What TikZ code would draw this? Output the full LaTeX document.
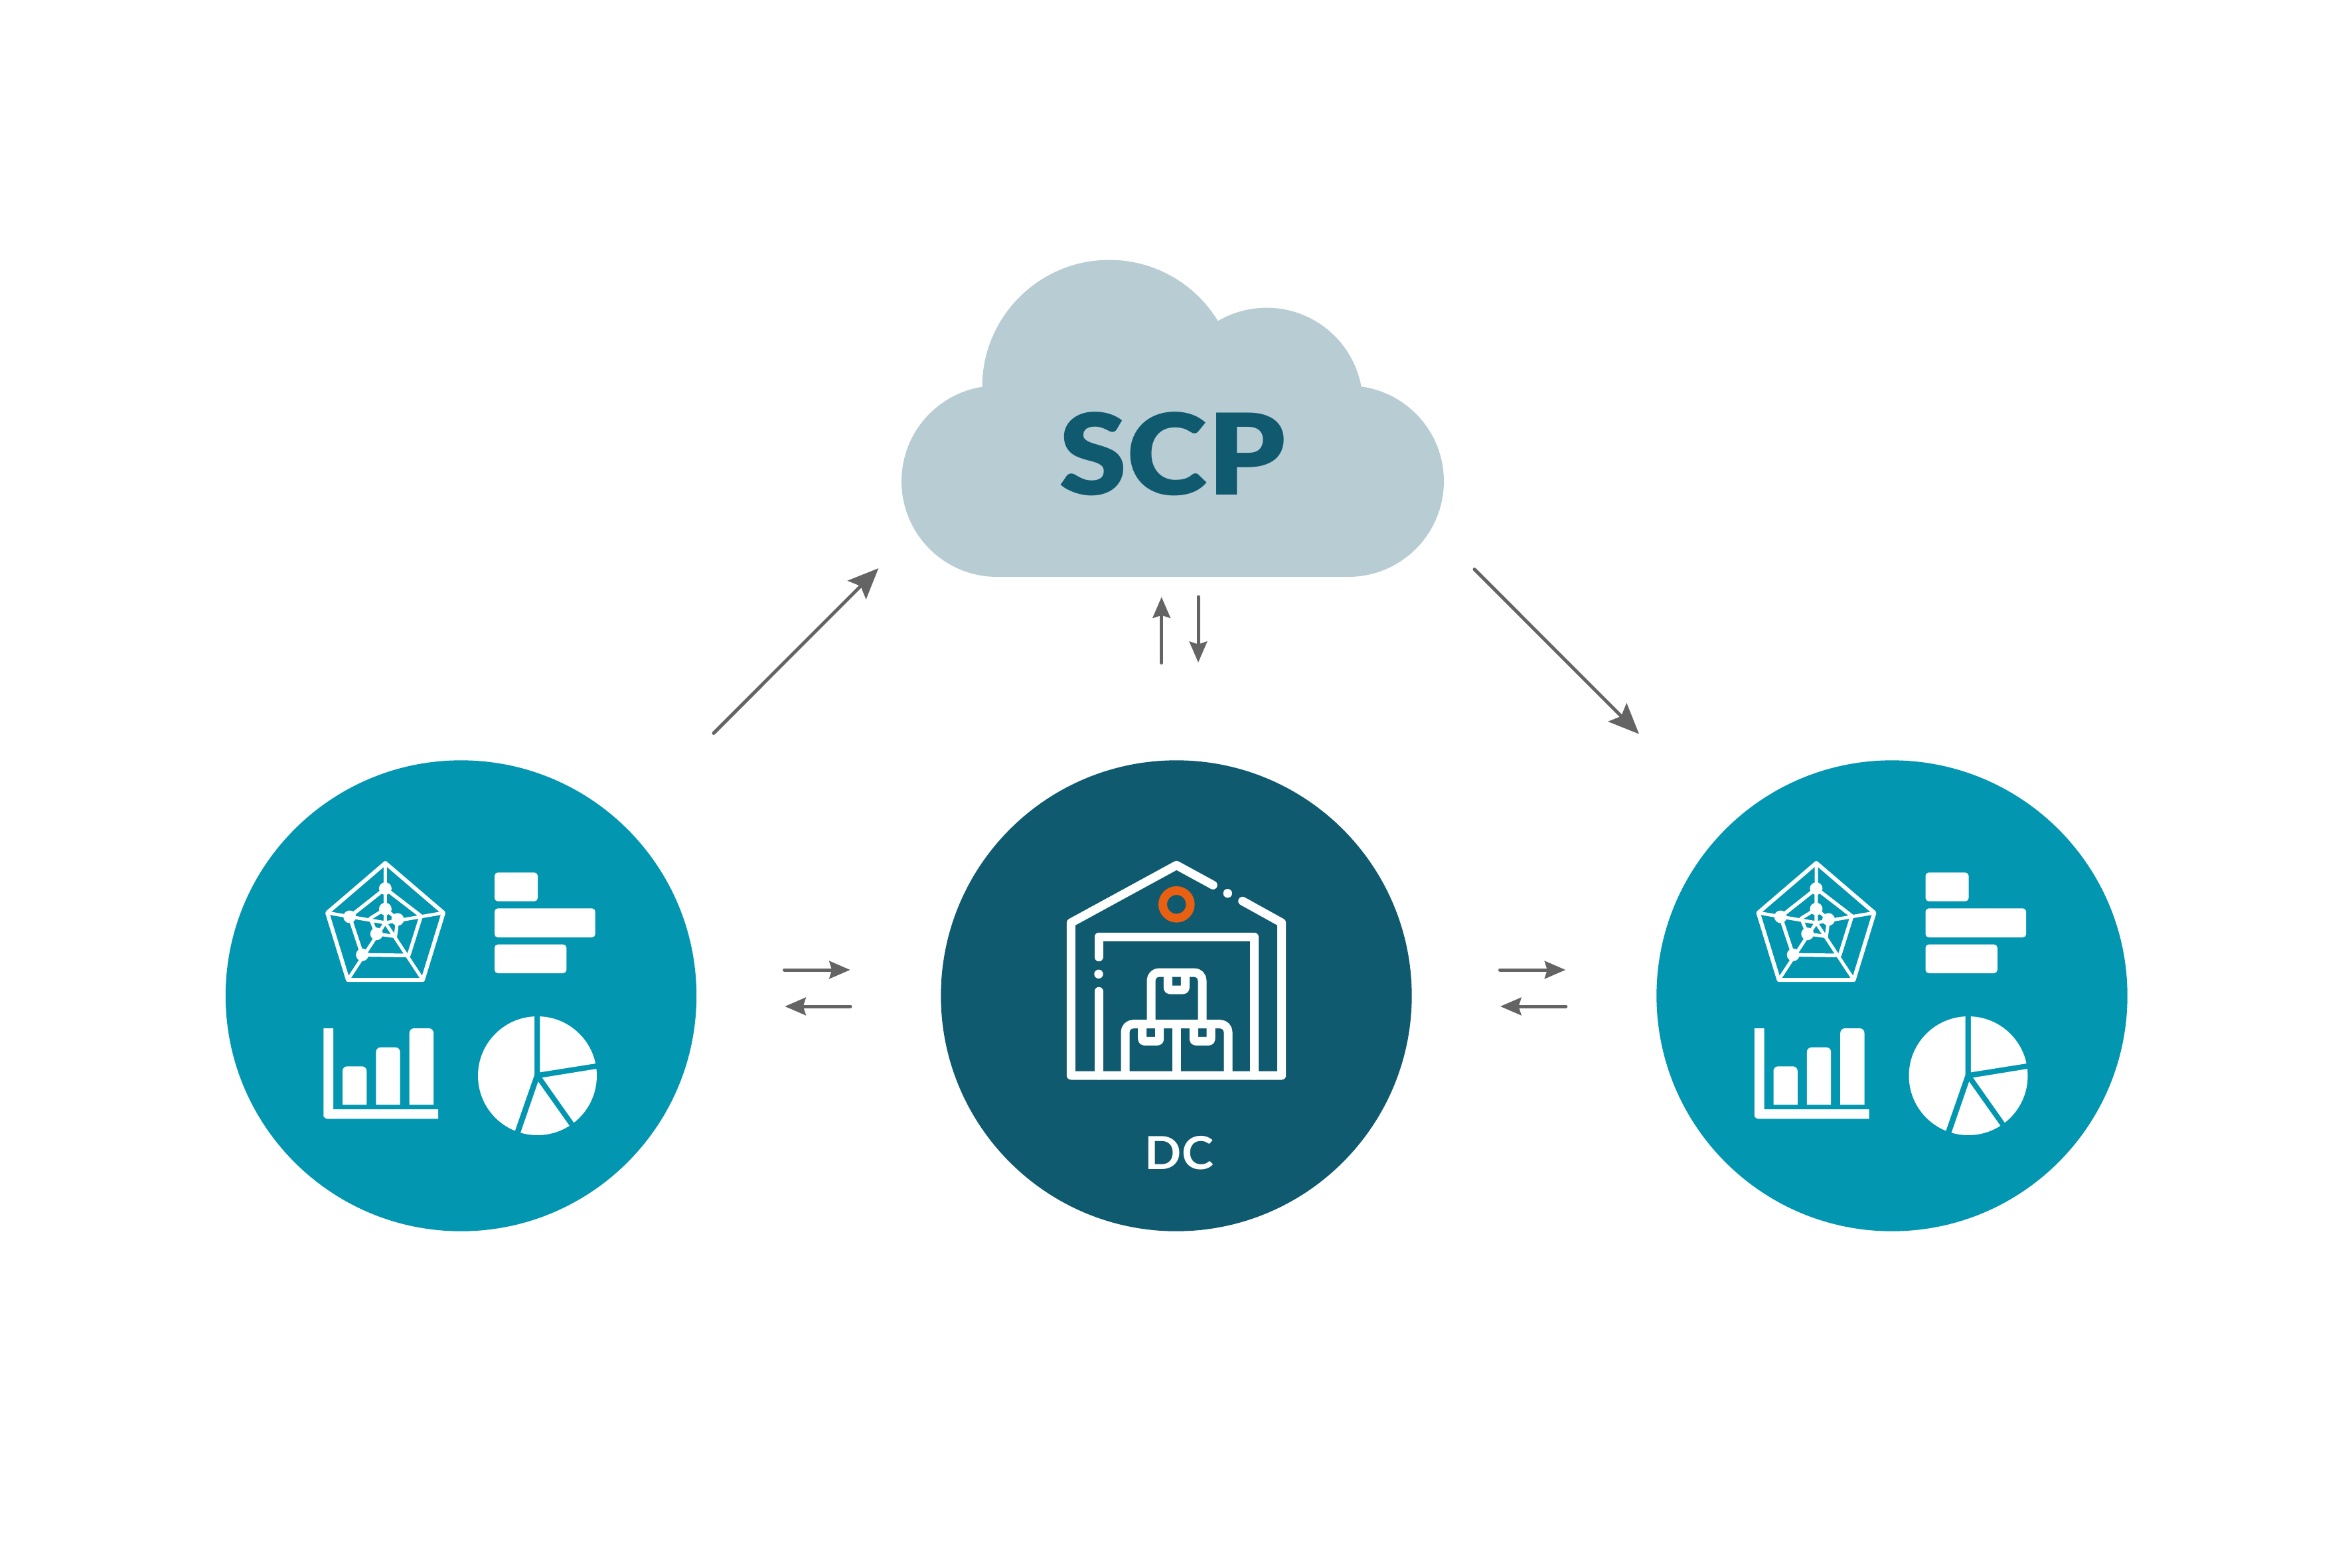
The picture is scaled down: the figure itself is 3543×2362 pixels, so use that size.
\documentclass[tikz,border=0pt]{standalone}
\usepackage{fontspec}
\usetikzlibrary{arrows.meta}
\newfontfamily\scpface[FakeStretch=1.09]{Lato Black}
\newfontfamily\dcface[FakeStretch=1.06]{Lato Bold}
\definecolor{tealhub}{HTML}{0296B1}
\definecolor{darkhub}{HTML}{105A70}
\definecolor{cloudblue}{HTML}{B8CCD4}
\definecolor{arrowgray}{HTML}{636463}
\definecolor{ringorange}{HTML}{EA6012}
\tikzset{
  hub/.style={circle,minimum size=14.19cm,inner sep=0pt,draw=none,fill=#1},
  cloudpart/.style={fill=cloudblue,draw=none},
  bigflow/.style={draw=arrowgray,line width=.1cm,line cap=round,-{Stealth[length=.92cm,width=.78cm,inset=.16cm,fill=arrowgray]}},
  smallflow/.style={draw=arrowgray,line width=.1cm,line cap=round,-{Stealth[length=.63cm,width=.53cm,inset=.08cm,fill=arrowgray]}},
  whiteline/.style={draw=white,line width=.26cm,line cap=round,line join=round},
  radarline/.style={draw=white,line width=.11cm,line join=round},
  whitefill/.style={fill=white,draw=none}
}
\newcommand{\chartgroup}{%
  % radar chart
  \draw[radarline,line width=.12cm] (580.5,1300)--(668,1375)--(637,1476)--(524,1476)--(493,1375)--cycle;
  \draw[radarline] (580.4,1338.5)--(634.3,1380)--(615.7,1439.3)--(545.7,1438.3)--(526.7,1381)--cycle;
  \draw[radarline,line width=.1cm] (580.4,1369.3)--(599,1385)--(595.7,1410.7)--(567.3,1406.7)--(557.7,1383.3)--cycle;
  \draw[radarline,line width=.1cm] (580.4,1390)--(580.5,1300) (580.4,1390)--(668,1375) (580.4,1390)--(637,1476) (580.4,1390)--(524,1476) (580.4,1390)--(493,1375);
  \foreach \dx/\dy in {580.4/1338.5,526.7/1381,545.7/1438.3,580.4/1369.3,599/1385,567.3/1406.7}
    \fill[whitefill] (\dx,\dy) circle[radius=.19cm];
  % horizontal bars
  \fill[whitefill,rounded corners=.1cm] (745,1314.3) rectangle (810,1357.7);
  \fill[whitefill,rounded corners=.1cm] (745,1368.3) rectangle (896.7,1412);
  \fill[whitefill,rounded corners=.1cm] (745,1422.7) rectangle (853.3,1466);
  % column chart
  \fill[whitefill] (487.3,1549) -- (502,1549) -- (502,1671) -- (660,1671) -- (660,1685.3) -- (494,1685.3) [rounded corners=.12cm] -- (487.3,1685.3) -- (487.3,1678) [sharp corners] -- cycle;
  \fill[whitefill] (516,1664) -- (516,1620) [rounded corners=.14cm] -- (516,1606.3) -- (552.3,1606.3) -- (552.3,1620) [sharp corners] -- (552.3,1664) -- cycle;
  \fill[whitefill] (566.3,1664) -- (566.3,1600) [rounded corners=.14cm] -- (566.3,1577.7) -- (602.7,1577.7) -- (602.7,1600) [sharp corners] -- (602.7,1664) -- cycle;
  \fill[whitefill] (616.7,1664) -- (616.7,1570) [rounded corners=.14cm] -- (616.7,1549) -- (653,1549) -- (653,1570) [sharp corners] -- (653,1664) -- cycle;
  % pie chart
  \begin{scope}
    \clip (809.5,1620.5) circle[radius=1.79cm];
    \fill[whitefill] (805,1525)--(805,1619.3)--(770,1720)--(700,1720)--(700,1525)--cycle;
    \fill[whitefill] (813.3,1525)--(813.3,1615.3)--(910,1600)--(910,1525)--cycle;
    \fill[whitefill] (816.7,1623.3)--(910,1608.2)--(910,1720)--(884.8,1720)--cycle;
    \fill[whitefill] (810.7,1629.3)--(875,1720)--(779.4,1720)--cycle;
  \end{scope}
}
\begin{document}
\begin{tikzpicture}[x=.02cm,y=-.02cm]
\useasboundingbox (0,0) rectangle (3543,2362);
\fill[white] (0,0) rectangle (3543,2362);

% cloud
\fill[cloudpart] (1502,725) circle[radius=2.88cm];
\fill[cloudpart] (2031,725) circle[radius=2.88cm];
\fill[cloudpart] (1671,583) circle[radius=3.83cm];
\fill[cloudpart] (1908,608.6) circle[radius=2.9cm];
\fill[cloudpart] (1502,600) rectangle (2031,869);
\node[anchor=base,inner sep=0pt,text=darkhub,font=\scpface\fontsize{96.5}{96.5}\selectfont] (scp) at (1766,745.5) {SCP};

% hubs
\node[hub=tealhub] (hubL) at (694.5,1500) {};
\node[hub=darkhub] (hubC) at (1772,1500) {};
\node[hub=tealhub] (hubR) at (2850,1500) {};

% icons of the two side hubs
\chartgroup
\begin{scope}[shift={(2155.5,0)}]
  \chartgroup
\end{scope}

% warehouse
\draw[whiteline] (1827.3,1333.3)--(1772.3,1303.3)--(1613.3,1390)--(1613.3,1620)--(1930.7,1620)--(1930.7,1390)--(1871.7,1357.3);
\fill[whitefill] (1849.3,1345.7) circle[radius=.134cm];
\draw[whiteline] (1655,1441.7)--(1655,1411)--(1889.3,1411)--(1889.3,1620);
\fill[whitefill] (1655,1467.3) circle[radius=.134cm];
\draw[whiteline] (1655,1493.3)--(1655,1620);
\draw[whiteline,rounded corners=.24cm,line cap=butt] (1734,1542.7)--(1734,1465)--(1811,1465)--(1811,1542.7);
\draw[whiteline,rounded corners=.06cm,line cap=butt] (1759.3,1465)--(1759.3,1491)--(1785.3,1491)--(1785.3,1465);
\draw[whiteline,rounded corners=.24cm,line cap=butt] (1695,1620)--(1695,1542.7)--(1850,1542.7)--(1850,1620);
\draw[whiteline,line cap=butt] (1772.3,1542.7)--(1772.3,1620);
\draw[whiteline,rounded corners=.06cm,line cap=butt] (1720.7,1542.7)--(1720.7,1568.3)--(1746.7,1568.3)--(1746.7,1542.7);
\draw[whiteline,rounded corners=.06cm,line cap=butt] (1798.3,1542.7)--(1798.3,1568.3)--(1824,1568.3)--(1824,1542.7);
\draw[draw=ringorange,line width=.26cm] (1772.3,1362.3) circle[radius=.416cm];
\node[anchor=base,inner sep=0pt,text=white,font=\dcface\fontsize{39}{39}\selectfont] (dc) at (1776.5,1761) {DC};

% connector end points
\coordinate (a1s) at (1075,1104.5);
\coordinate (a1e) at (1323.3,856);
\coordinate (a2s) at (2221,857.5);
\coordinate (a2e) at (2469,1105.7);
\coordinate (a3s) at (1749.7,998.5);
\coordinate (a3e) at (1749.7,899.3);
\coordinate (a4s) at (1805,899);
\coordinate (a4e) at (1805,998);
\coordinate (a5s) at (1181.5,1461);
\coordinate (a5e) at (1280.7,1461);
\coordinate (a6s) at (1281,1516);
\coordinate (a6e) at (1182.3,1516);
\coordinate (a7s) at (2259.5,1461);
\coordinate (a7e) at (2358.3,1461);
\coordinate (a8s) at (2358.8,1516);
\coordinate (a8e) at (2260,1516);

\draw[bigflow] (a1s)--(a1e);
\draw[bigflow] (a2s)--(a2e);
\draw[smallflow] (a3s)--(a3e);
\draw[smallflow] (a4s)--(a4e);
\draw[smallflow] (a5s)--(a5e);
\draw[smallflow] (a6s)--(a6e);
\draw[smallflow] (a7s)--(a7e);
\draw[smallflow] (a8s)--(a8e);
\end{tikzpicture}
\end{document}
